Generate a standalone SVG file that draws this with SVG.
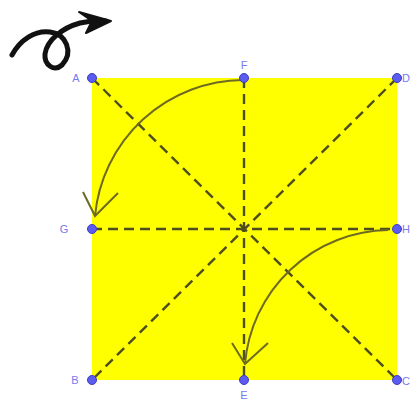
<svg xmlns="http://www.w3.org/2000/svg" width="411" height="405" viewBox="0 0 411 405">
<style>
.dash{stroke:#4e4e1c;stroke-width:2.4;stroke-dasharray:10 6;fill:none}
.arc{stroke:#6e6a22;stroke-width:2;fill:none}
.pt{fill:#5c5cf0;stroke:#3c3cc0;stroke-width:1}
.lbl{font-family:"Liberation Sans",Arial,sans-serif;font-size:11px;fill:#7878f0}
</style>
<rect width="411" height="405" fill="#ffffff"/>
<g id="icon">
<path d="M12,55 C20,40 35,30 50,32 C66,34 74,52 62,65 C54,72 44,65 45,54 C47,40 62,28 80,23 C92,20 100,21 106,21" fill="none" stroke="#111" stroke-width="5" stroke-linecap="round"/>
<path d="M79,12 L111,21 L86,33 L92,21 Z" fill="#111" stroke="#111" stroke-width="2" stroke-linejoin="round"/>
</g>
<g id="square">
<rect x="92" y="78" width="305" height="302" fill="#ffff00"/>
</g>
<g id="connectors">
<line class="dash" x1="92" y1="78" x2="397" y2="380"/>
<line class="dash" x1="397" y1="78" x2="92" y2="380"/>
<line class="dash" x1="244" y1="78" x2="244" y2="380"/>
<line class="dash" x1="92" y1="229" x2="397" y2="229"/>
<path class="arc" d="M243,80 A150,150 0 0 0 95,216"/>
<path class="arc" d="M83,192 L95,216 L118,193"/>
<path class="arc" d="M388,230 A146,146 0 0 0 245,364"/>
<path class="arc" d="M232,343 L245,364 L268,343"/>
</g>
<g id="A"><circle class="pt" cx="92" cy="78" r="4.5"/><text class="lbl" x="76" y="82" text-anchor="middle">A</text></g>
<g id="F"><circle class="pt" cx="244" cy="78" r="4.5"/><text class="lbl" x="244" y="69" text-anchor="middle">F</text></g>
<g id="D"><circle class="pt" cx="397" cy="78" r="4.5"/><text class="lbl" x="402" y="82">D</text></g>
<g id="G"><circle class="pt" cx="92" cy="229" r="4.5"/><text class="lbl" x="64" y="233" text-anchor="middle">G</text></g>
<g id="H"><circle class="pt" cx="397" cy="229" r="4.5"/><text class="lbl" x="402" y="233">H</text></g>
<g id="B"><circle class="pt" cx="92" cy="380" r="4.5"/><text class="lbl" x="75" y="384" text-anchor="middle">B</text></g>
<g id="E"><circle class="pt" cx="244" cy="380" r="4.5"/><text class="lbl" x="244" y="399" text-anchor="middle">E</text></g>
<g id="C"><circle class="pt" cx="397" cy="380" r="4.5"/><text class="lbl" x="402" y="385">C</text></g>
</svg>
